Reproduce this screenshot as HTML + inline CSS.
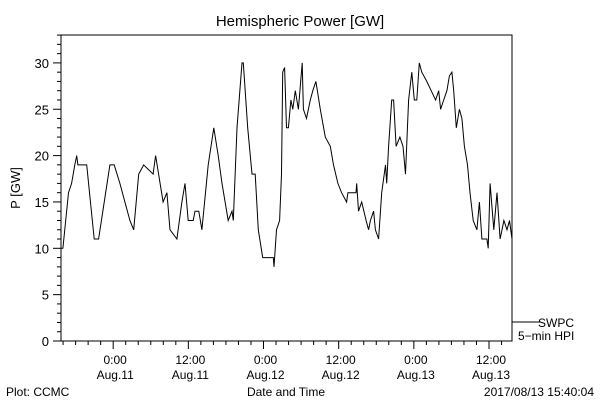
<!DOCTYPE html>
<html><head><meta charset="utf-8"><style>
body{margin:0;background:#fff}
svg{display:block;font-family:"Liberation Sans",sans-serif}
text{fill:#000}
</style></head><body>
<svg id="chart" width="600" height="400">
<text x="300" y="26" font-size="15" text-anchor="middle">Hemispheric Power [GW]</text>
<rect x="61" y="35" width="451" height="306" fill="none" stroke="#000" stroke-width="1"/>
<g id="yaxis"></g>
<g id="xaxis"></g>
<text transform="translate(20,188) rotate(-90)" font-size="13" text-anchor="middle">P [GW]</text>
<polyline id="series" fill="none" stroke="#000" stroke-width="1"/>
<line x1="512" y1="322" x2="540" y2="322" stroke="#000"/>
<text x="538" y="327" font-size="12">SWPC</text>
<text x="518" y="340" font-size="12">5−min HPI</text>
<text x="6" y="396" font-size="12">Plot: CCMC</text>
<text x="286" y="396" font-size="12" text-anchor="middle">Date and Time</text>
<text x="594" y="396" font-size="12" text-anchor="end">2017/08/13 15:40:04</text>
</svg>
<script>
const hours=[0,0.3,1.2,1.7,2.2,2.5,2.7,4.1,5.3,6.0,7.8,8.5,9.4,10.2,11.0,11.6,12.4,13.2,14.7,15.1,16.3,16.9,17.4,18.5,19.3,19.8,20.3,21.1,21.4,22.0,22.5,23.5,24.4,25.1,25.7,26.7,27.3,27.5,28.1,28.9,29.1,29.8,30.5,31.0,31.5,32.2,33.9,34.0,34.4,34.9,35.2,35.4,35.7,36.0,36.3,36.7,37.0,37.4,37.9,38.5,38.7,39.2,39.8,40.2,40.7,41.4,42.2,43.0,43.5,44.2,44.8,45.6,45.8,47.1,47.2,47.5,48.0,48.7,49.1,49.4,49.9,50.2,50.7,51.2,51.8,52.0,52.3,52.8,53.1,53.5,54.1,54.6,55.0,55.5,56.0,56.4,56.8,57.2,57.6,58.4,59.1,59.8,60.3,60.6,61.1,61.6,62.0,62.4,62.7,63.1,63.6,64.0,64.4,64.9,65.3,65.8,66.4,66.8,67.2,68.0,68.2,68.5,69.1,69.6,70.1,70.7,71.2,71.6,72.0];
const power=[10,10,16,17,19,20,19,19,11,11,19,19,17,15,13,12,18,19,18,20,15,16,12,11,15,17,13,13,14,14,12,19,23,20,17,13,14,13,23,30,30,23,18,18,12,9,9,8,12,13,18,29,29.5,23,23,26,25,27,25,30,25,24,26,27,28,25,22,21,19,17,16,15,16,16,17,14,15,13,12,13,14,12,11,16,19,17,21,26,26,21,22,21,18,26,29,26,26,30,29,28,27,26,27,25,26,27,28.6,29,27,23,25,24,21,19,16,13,12,15,11,11,10,17,12,16,11,13,12,13,11];
const yTicks=[0,5,10,15,20,25,30];
const xTickLabels=[["0:00","Aug.11"],["12:00","Aug.11"],["0:00","Aug.12"],["12:00","Aug.12"],["0:00","Aug.13"],["12:00","Aug.13"]];
const xTickHours=[8.33,20.33,32.33,44.33,56.33,68.33];
const X0=61,X1=512,Y0=341,H=72,PXG=9.27;
const sx=h=>X0+(X1-X0)*h/H;
const sy=v=>Y0-v*PXG;
const NS="http://www.w3.org/2000/svg";
const ya=document.getElementById('yaxis'),xa=document.getElementById('xaxis');
for(let v=0;v<=33;v++){
  const l=document.createElementNS(NS,'line');
  
  
  const major=v%5===0;
  l.setAttribute('x1',X0-(major?8:4));l.setAttribute('x2',X0);
  l.setAttribute('y1',sy(v));l.setAttribute('y2',sy(v));l.setAttribute('stroke','#000');
  ya.appendChild(l);
}
yTicks.forEach(v=>{
  const t=document.createElementNS(NS,'text');
  
  
  t.setAttribute('x',X0-12);t.setAttribute('y',sy(v)+5);t.setAttribute('text-anchor','end');t.setAttribute('font-size','13');
  t.textContent=v;ya.appendChild(t);
});
for(let h=xTickHours[0]%2;h<=H;h+=2){
  const l=document.createElementNS(NS,'line');
  
  
  const major=xTickHours.some(m=>Math.abs(m-h)<0.01);
  l.setAttribute('x1',sx(h));l.setAttribute('x2',sx(h));
  l.setAttribute('y1',Y0);l.setAttribute('y2',Y0+(major?8:4));l.setAttribute('stroke','#000');
  xa.appendChild(l);
}
xTickHours.forEach((h,i)=>{
  xTickLabels[i].forEach((s,j)=>{
    const t=document.createElementNS(NS,'text');
    
    
    t.setAttribute('x',sx(h)+2);t.setAttribute('y',364+j*15);t.setAttribute('text-anchor','middle');t.setAttribute('font-size','12');
    t.textContent=s;xa.appendChild(t);
  });
});
document.getElementById('series').setAttribute('points',hours.map((h,i)=>sx(h).toFixed(1)+','+sy(power[i]).toFixed(1)).join(' '));
</script>
</body></html>
